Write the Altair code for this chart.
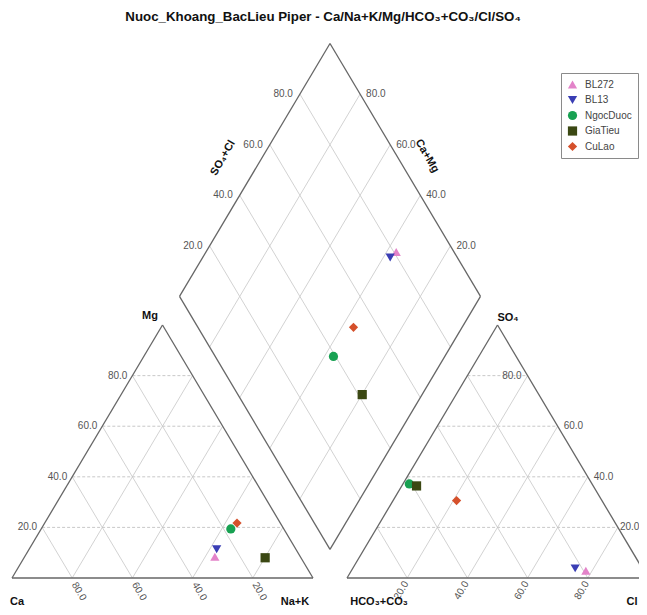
import altair as alt
import pandas as pd

# ---------------- data (percent of meq) ----------------
samples = ["BL272", "BL13", "NgocDuoc", "GiaTieu", "CuLao"]
ca   = [28.4, 26.3, 17.6, 11.9, 14.4]
mg   = [8.4, 11.4, 19.4, 8.0, 21.7]
nak  = [63.2, 62.3, 63.0, 80.1, 63.9]
hco3 = [19.2, 22.3, 60.7, 58.7, 48.3]
cl   = [77.9, 73.9, 2.1, 4.9, 21.1]
so4  = [2.9, 3.8, 37.2, 36.4, 30.6]

colors = ["#e383c9", "#3a3eb4", "#18a152", "#3b4813", "#d5502b"]
shapes = ["triangle-up", "triangle-down", "circle", "square", "diamond"]
sizes = [85, 85, 75, 80, 55]
ticks = [20, 40, 60, 80]

# ---------------- Piper geometry ----------------
H = 86.6          # triangle height for side 100
X0 = 111.3        # left corner of anion triangle
XB = (100 + X0) / 2
YB = (X0 - 100) * H / 100


def cat_xy(m, n):
    return n + m / 2, m * H / 100


def an_xy(s, c):
    return X0 + c + s / 2, s * H / 100


def dia_xy(cm, sc):
    return XB + 0.5 * (sc - cm), YB + H / 100 * (cm + sc)


# points
prow = []
for i, s in enumerate(samples):
    for (x, y) in (cat_xy(mg[i], nak[i]), an_xy(so4[i], cl[i]),
                   dia_xy(ca[i] + mg[i], so4[i] + cl[i])):
        prow.append({"name": s, "x": x, "y": y})
pts = pd.DataFrame(prow)

# grid lines
dashed, solid = [], []
for t in ticks:
    y = t * H / 100
    dashed.append({"x": t / 2, "y": y, "x2": 100 - t / 2, "y2": y})
    dashed.append({"x": X0 + t / 2, "y": y, "x2": X0 + 100 - t / 2, "y2": y})
    for a, b in ((cat_xy(0, t), cat_xy(t, 0)), (cat_xy(0, t), cat_xy(100 - t, t)),
                 (an_xy(0, t), an_xy(t, 0)), (an_xy(0, t), an_xy(100 - t, t)),
                 (dia_xy(t, 0), dia_xy(t, 100)), (dia_xy(0, t), dia_xy(100, t))):
        solid.append({"x": a[0], "y": a[1], "x2": b[0], "y2": b[1]})
dashed = pd.DataFrame(dashed)
solid = pd.DataFrame(solid)

corners = [
    (cat_xy(0, 0), cat_xy(0, 100)), (cat_xy(0, 100), cat_xy(100, 0)), (cat_xy(100, 0), cat_xy(0, 0)),
    (an_xy(0, 0), an_xy(0, 100)), (an_xy(0, 100), an_xy(100, 0)), (an_xy(100, 0), an_xy(0, 0)),
    (dia_xy(0, 0), dia_xy(100, 0)), (dia_xy(100, 0), dia_xy(100, 100)),
    (dia_xy(100, 100), dia_xy(0, 100)), (dia_xy(0, 100), dia_xy(0, 0)),
]
outline = pd.DataFrame([{"x": a[0], "y": a[1], "x2": b[0], "y2": b[1]} for a, b in corners])


def lab(points):
    return pd.DataFrame([{"x": p[0], "y": p[1], "t": f"{v:.1f}"} for p, v in points])


cat_left = lab([(cat_xy(t, 0), t) for t in ticks])
cat_base = lab([(cat_xy(0, t), 100 - t) for t in ticks])
an_right = lab([(an_xy(t, 100 - t), t) for t in (40, 60)])
an_right20 = lab([(an_xy(20, 80), 20)])
an_right80 = lab([(an_xy(80, 20), 80)])
an_base = lab([(an_xy(0, t), t) for t in ticks])
dia_left = lab([(dia_xy(100, t), t) for t in ticks])
dia_right = lab([(dia_xy(t, 100), t) for t in ticks])

# ---------------- chart ----------------
W, HH = 631, 599
xs = alt.Scale(domain=[-1.329, 208.31], nice=False, zero=False)
ys = alt.Scale(domain=[-9.93, 195.14], nice=False, zero=False)
X = alt.X("x:Q", scale=xs, axis=None)
Y = alt.Y("y:Q", scale=ys, axis=None)
X2 = alt.X2("x2:Q")
Y2 = alt.Y2("y2:Q")

FONT = "Liberation Sans"

g_dash = alt.Chart(dashed).mark_rule(color="#c2c2c2", strokeWidth=0.9, strokeDash=[3, 2]).encode(X, Y, X2, Y2)
g_solid = alt.Chart(solid).mark_rule(color="#cdcdcd", strokeWidth=0.9).encode(X, Y, X2, Y2)
g_out = alt.Chart(outline).mark_rule(color="#666666", strokeWidth=1.3).encode(X, Y, X2, Y2)


def tlayer(df, **kw):
    base = dict(font=FONT, fontSize=10, color="#555555", baseline="middle")
    base.update(kw)
    return alt.Chart(df).mark_text(**base).encode(X, Y, text="t:N")


labels = [
    tlayer(cat_left, align="right", dx=-5),
    tlayer(cat_base, align="left", angle=60, dx=5.3, dy=0.8),
    tlayer(an_right, align="left", dx=6),
    tlayer(an_right20, align="left", dx=2),
    tlayer(an_right80, align="right", dx=-6),
    tlayer(an_base, align="right", angle=300, dx=-4, dy=1.1),
    tlayer(dia_left, align="right", dx=-7),
    tlayer(dia_right, align="left", dx=6),
]

titles_df = pd.DataFrame([
    {"t": "Mg", "px": 142, "py": 308},
    {"t": "Ca", "px": 9, "py": 594},
    {"t": "Na+K", "px": 287, "py": 594},
    {"t": "SO₄", "px": 500, "py": 310},
    {"t": "HCO₃+CO₃", "px": 371, "py": 594},
    {"t": "Cl", "px": 624, "py": 594},
])
axis_titles = alt.Chart(titles_df).mark_text(
    font=FONT, fontSize=11, fontWeight="bold", color="#111111", baseline="middle", align="center"
).encode(x=alt.X("px:Q", scale=None, axis=None), y=alt.Y("py:Q", scale=None, axis=None), text="t:N")

rot1 = alt.Chart(pd.DataFrame([{"t": "SO₄+Cl"}])).mark_text(
    font=FONT, fontSize=11, fontWeight="bold", color="#111111", baseline="middle", align="center", angle=300
).encode(x=alt.value(215), y=alt.value(150), text="t:N")
rot2 = alt.Chart(pd.DataFrame([{"t": "Ca+Mg"}])).mark_text(
    font=FONT, fontSize=11, fontWeight="bold", color="#111111", baseline="middle", align="center", angle=60
).encode(x=alt.value(419), y=alt.value(148), text="t:N")

title = alt.Chart(pd.DataFrame([{"t": "Nuoc_Khoang_BacLieu  Piper  -  Ca/Na+K/Mg/HCO₃+CO₃/Cl/SO₄"}])).mark_text(
    font=FONT, fontSize=13.3, fontWeight="bold", color="#111111", baseline="middle", align="center"
).encode(x=alt.value(315), y=alt.value(8.5), text="t:N")

points = alt.Chart(pts).mark_point(filled=True, opacity=1).encode(
    X, Y,
    color=alt.Color("name:N", scale=alt.Scale(domain=samples, range=colors),
                    legend=alt.Legend(title=None, orient="none", legendX=553, legendY=65,
                                      strokeColor="#8a8a8a", fillColor="white", padding=6,
                                      labelFont=FONT, labelFontSize=10, labelColor="#444444",
                                      symbolSize=75, rowPadding=4.5, labelOffset=7)),
    shape=alt.Shape("name:N", scale=alt.Scale(domain=samples, range=shapes)),
    size=alt.Size("name:N", scale=alt.Scale(domain=samples, range=sizes), legend=None),
)

chart = alt.layer(g_solid, g_dash, g_out, *labels, axis_titles, rot1, rot2, title, points).properties(
    width=W, height=HH, autosize=alt.AutoSizeParams(type="none"), padding=0
).configure_view(stroke=None)

chart.save("out.html", embed_options={"renderer": "svg", "actions": False})
